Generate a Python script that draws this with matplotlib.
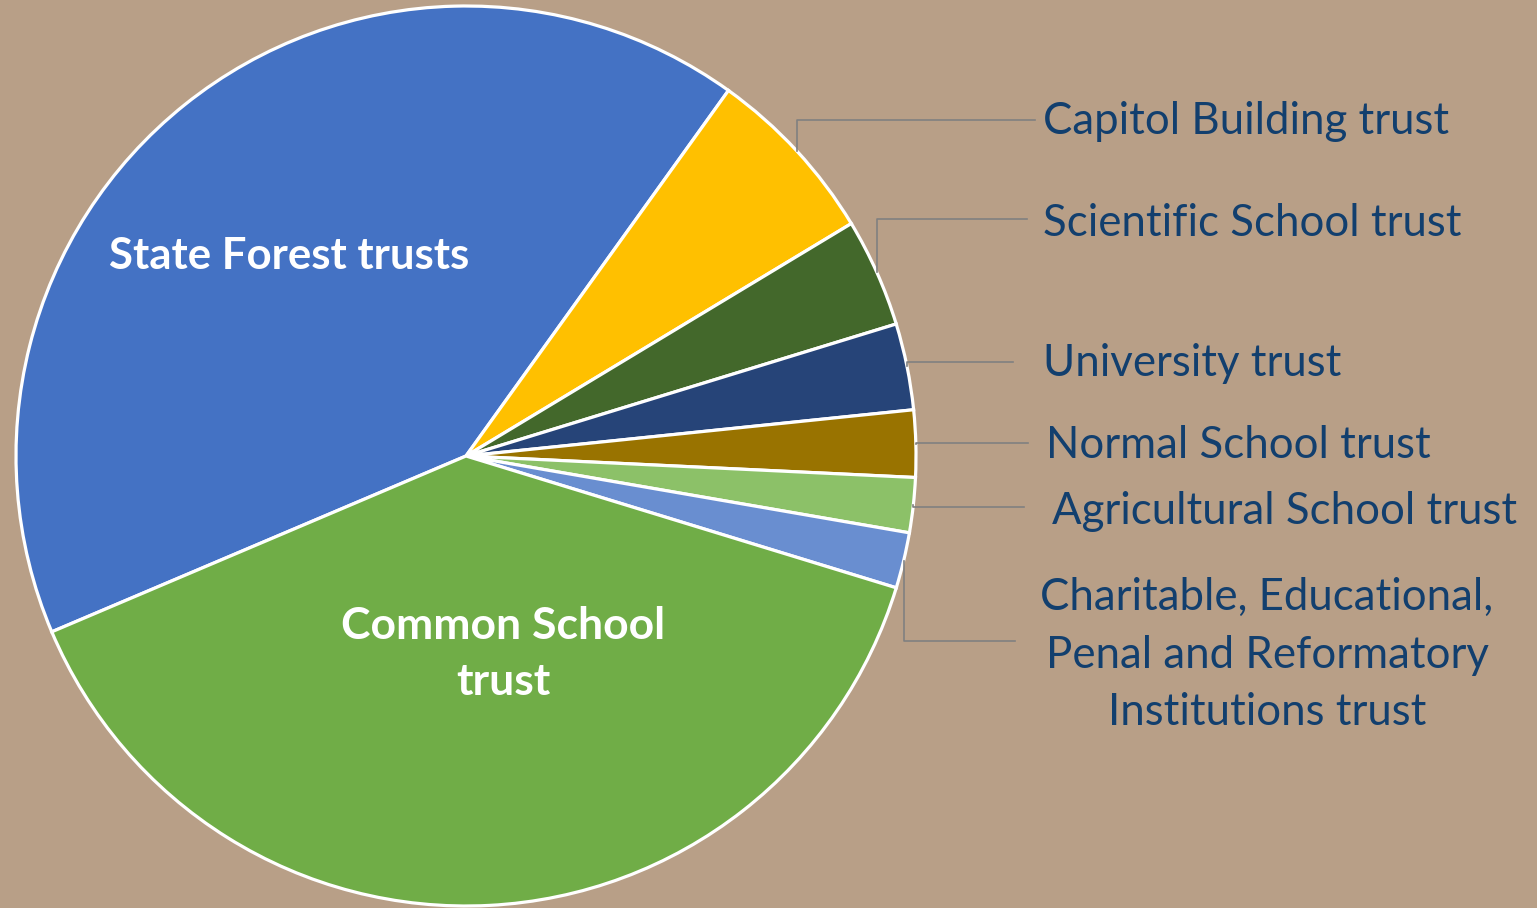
import numpy as np
import matplotlib.pyplot as plt

# trust shares (percent), clockwise starting from State Forest
trusts = ["State Forest trusts", "Capitol Building trust", "Scientific School trust",
          "University trust", "Normal School trust", "Agricultural School trust",
          "Charitable, Educational,\nPenal and Reformatory\nInstitutions trust",
          "Common School\ntrust"]
shares = [41.3, 6.45, 3.9, 3.1, 2.4, 1.97, 2.0, 38.88]
colors = ["#4472C4", "#FFC000", "#43682B", "#264478", "#997300",
          "#8CC168", "#698ED0", "#70AD47"]

bg = "#B89F87"
txt = "#123F6E"

fig = plt.figure(figsize=(15.37, 9.08), dpi=100)
fig.patch.set_facecolor(bg)
ax = fig.add_axes([0, 0, 1, 1])
ax.set_facecolor(bg)

cx, cy, r = 466, 908 - 456, 450
wedges, _ = ax.pie(shares, colors=colors, startangle=203, counterclock=False,
                   center=(cx, cy), radius=r,
                   wedgeprops=dict(edgecolor="white", linewidth=2.3))
ax.set_xlim(0, 1537)
ax.set_ylim(0, 908)
ax.set_aspect("auto")
ax.axis("off")

# inside labels
ax.text(289, 908 - 256, trusts[0], color="white", fontsize=31.5, fontweight="bold",
        family="Lato", ha="center", va="center")
ax.text(503, 908 - 654, trusts[7], color="white", fontsize=32, fontweight="bold",
        family="Lato", ha="center", va="center", linespacing=1.5)

# outside labels: (line end x, line y, text x, text y, alignment)
outside = {1: (1035, 120, 1043, 122, "left"),
           2: (1027, 219, 1043, 223, "left"),
           3: (1013, 362, 1043, 363, "left"),
           4: (1028, 443, 1046, 445, "left"),
           5: (1024, 507, 1052, 511, "left"),
           6: (1015, 641, 1267, 655, "center")}

for i, (xe, ly, tx, ty, al) in outside.items():
    w = wedges[i]
    mid = np.deg2rad((w.theta1 + w.theta2) / 2)
    ex = cx + r * np.cos(mid)
    ey = cy + r * np.sin(mid)
    ax.plot([ex, ex, xe], [ey, 908 - ly, 908 - ly], color="#808080", lw=1.2)
    ax.text(tx, 908 - ty, trusts[i], color=txt, fontsize=31.5, family="Lato",
            ha=al, va="center", multialignment="center", linespacing=1.5)

fig.savefig("out.png", dpi=100, facecolor=bg)
